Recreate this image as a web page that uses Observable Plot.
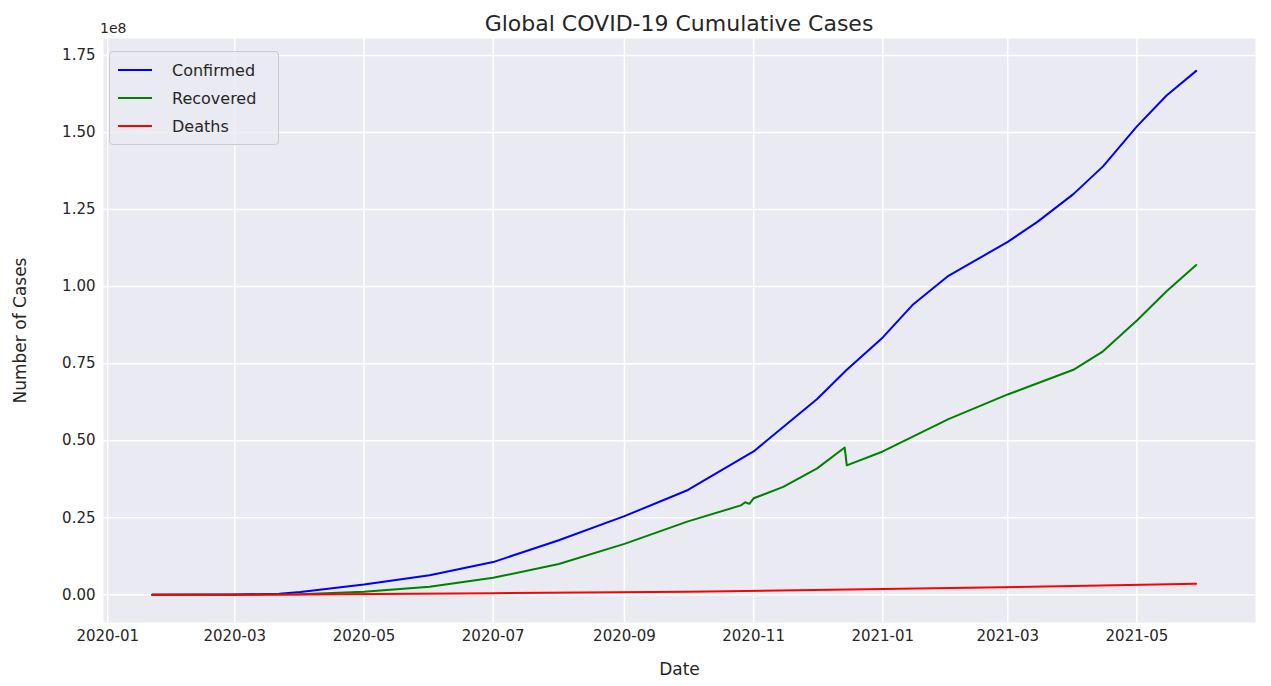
<!DOCTYPE html>
<html>
<head>
<meta charset="utf-8">
<script src="https://cdn.jsdelivr.net/npm/d3@7"></script>
<script src="https://cdn.jsdelivr.net/npm/@observablehq/plot@0.6"></script>
<style>
  body { margin: 0; background: #fff; font-family: "DejaVu Sans", sans-serif; }
  #wrap { position: relative; width: 1271px; height: 686px; }
  #title { position: absolute; top: 11px; left: 103px; width: 1152px; text-align: center; font-size: 22px; color: #262626; }
  #exp { position: absolute; top: 20px; left: 100px; font-size: 14px; color: #262626; }
  #legend { position: absolute; top: 51px; left: 109px; width: 152px; background: rgba(234,234,242,0.8); border: 1px solid #ccc; border-radius: 4px; padding: 4px 8px 4px 8px; font-size: 16px; color: #262626; }
  #legend div { display: flex; align-items: center; height: 28px; }
  #legend span.sw { display: inline-block; width: 34px; height: 2px; margin-right: 20px; }
</style>
</head>
<body>
<div id="wrap">
  <div id="chart"></div>
  <div id="title">Global COVID-19 Cumulative Cases</div>
  <div id="exp">1e8</div>
  <div id="legend"></div>
</div>
<script>
const confirmedDates = ["2020-01-22","2020-03-01","2020-03-22","2020-04-01","2020-05-01","2020-06-01","2020-07-01","2020-08-01","2020-09-01","2020-10-01","2020-11-01","2020-12-01","2020-12-15","2021-01-01","2021-01-15","2021-02-01","2021-02-15","2021-03-01","2021-03-15","2021-04-01","2021-04-15","2021-05-01","2021-05-15","2021-05-29"];
const confirmed = [0.0006,0.09,0.34,0.9,3.3,6.3,10.6,17.7,25.5,34,46.5,63.5,73,83.5,94,103.5,109,114.5,121,130,139,152,162,170];

const recoveredDates = ["2020-01-22","2020-03-01","2020-04-01","2020-05-01","2020-06-01","2020-07-01","2020-08-01","2020-09-01","2020-10-01","2020-10-26","2020-10-28","2020-10-30","2020-11-01","2020-11-15","2020-12-01","2020-12-14","2020-12-15","2021-01-01","2021-02-01","2021-03-01","2021-04-01","2021-04-15","2021-05-01","2021-05-15","2021-05-29"];
const recovered = [0,0.04,0.2,1.0,2.6,5.5,10,16.5,23.8,29,30,29.5,31.3,35,41,47.8,42,46.5,57,65,73,79,89,98.5,107];

const deathsDates = ["2020-01-22","2020-04-01","2020-07-01","2020-10-01","2021-01-01","2021-04-01","2021-05-29"];
const deaths = [0,0.05,0.51,1.0,1.83,2.85,3.55];

const series = [
  {name: "Confirmed", color: "blue", dates: confirmedDates, values: confirmed},
  {name: "Recovered", color: "green", dates: recoveredDates, values: recovered},
  {name: "Deaths", color: "red", dates: deathsDates, values: deaths}
];
const rows = series.flatMap(s => s.dates.map((d, i) => ({series: s.name, date: new Date(d + "T00:00"), value: s.values[i] * 1e6})));

const xTicks = ["2020-01","2020-03","2020-05","2020-07","2020-09","2020-11","2021-01","2021-03","2021-05"].map(d => new Date(d + "-01T00:00"));
const yTicks = [0, 0.25, 0.5, 0.75, 1.0, 1.25, 1.5, 1.75].map(v => v * 1e8);

const chart = Plot.plot({
  width: 1271, height: 686,
  marginTop: 38, marginBottom: 64, marginLeft: 103, marginRight: 16,
  style: {fontFamily: "DejaVu Sans", fontSize: "15px", color: "#262626", background: "#fff"},
  x: {domain: [new Date("2019-12-30T00:00"), new Date("2021-06-26T00:00")], ticks: xTicks, tickFormat: d3.timeFormat("%Y-%m"), tickSize: 0, tickPadding: 8, label: "Date", labelArrow: "none", labelAnchor: "center", labelOffset: 52},
  y: {domain: [-0.09e8, 1.805e8], ticks: yTicks, tickFormat: d => (d / 1e8).toFixed(2), tickSize: 0, tickPadding: 8, label: "Number of Cases", labelArrow: "none", labelAnchor: "center", labelOffset: 90},
  color: {domain: series.map(s => s.name), range: series.map(s => s.color)},
  marks: [
    Plot.frame({fill: "#eaeaf2", stroke: null}),
    Plot.gridX(xTicks, {stroke: "#fff", strokeOpacity: 1, strokeWidth: 1.5}),
    Plot.gridY(yTicks, {stroke: "#fff", strokeOpacity: 1, strokeWidth: 1.5}),
    Plot.line(rows, {x: "date", y: "value", z: "series", stroke: "series", strokeWidth: 2})
  ]
});
chart.querySelectorAll("[aria-label='x-axis label'] text, [aria-label='y-axis label'] text").forEach(t => t.style.fontSize = "17px");
d3.select("#chart").append(() => chart);

d3.select("#legend").selectAll("div").data(series).join("div")
  .html(s => `<span class="sw" style="background:${s.color}"></span>${s.name}`);
</script>
</body>
</html>
